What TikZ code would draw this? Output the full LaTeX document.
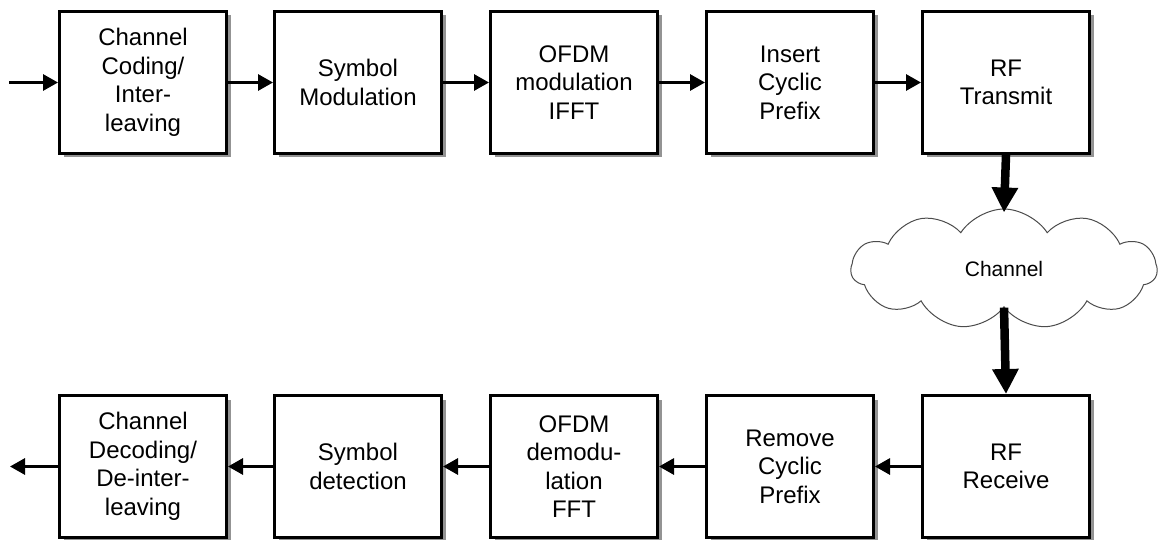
\documentclass[tikz,border=0pt]{standalone}
\usepackage{fontspec}
\setmainfont{Liberation Sans}
\usepackage{tikz}
\usetikzlibrary{shapes.symbols, shadows, arrows.meta}
\tikzstyle{block} = [draw, line width=3pt, fill=white, minimum width=167pt, minimum height=142pt, align=center, font=\fontsize{24}{28.5}\selectfont, drop shadow={shadow xshift=4pt, shadow yshift=-4pt, fill=gray!85, opacity=1}]
\tikzstyle{arrow} = [line width=3pt, -{Triangle[length=15pt,width=16pt]}]
\tikzstyle{bigarrow} = [line width=8.5pt, -{Triangle[length=25pt,width=25pt]}]

\begin{document}
\begin{tikzpicture}[x=1pt,y=-1pt]
\useasboundingbox (0,0) rectangle (1159,540);

% Transmitter chain
\node[block] (code) at (143,82.5) {Channel\\Coding/\\Inter-\\leaving};
\node[block] (mod) at (358,82.5) {Symbol\\Modulation};
\node[block] (ifft) at (574,82.5) {OFDM\\modulation\\IFFT};
\node[block] (cp) at (790,82.5) {Insert\\Cyclic\\Prefix};
\node[block] (tx) at (1006,82.5) {RF\\Transmit};

% Channel
\node[cloud, cloud puffs=11, cloud puff arc=115, cloud ignores aspect, draw=black!70, line width=1pt, fill=white, minimum width=306pt, minimum height=120pt, font=\fontsize{21}{24}\selectfont] (chan) at (1004,269) {Channel};

% Receiver chain
\node[block] (rx) at (1006,466.5) {RF\\Receive};
\node[block] (rcp) at (790,466.5) {Remove\\Cyclic\\Prefix};
\node[block] (fft) at (574,466.5) {OFDM\\demodu-\\lation\\FFT};
\node[block] (det) at (358,466.5) {Symbol\\detection};
\node[block] (dec) at (143,466.5) {Channel\\Decoding/\\De-inter-\\leaving};

% Input and output
\coordinate (in) at (9,82.5);
\coordinate (out) at (10,466.5);

% Thin arrows
\draw[arrow] (in) -- (code);
\draw[arrow] (code) -- (mod);
\draw[arrow] (mod) -- (ifft);
\draw[arrow] (ifft) -- (cp);
\draw[arrow] (cp) -- (tx);
\draw[arrow] (rx) -- (rcp);
\draw[arrow] (rcp) -- (fft);
\draw[arrow] (fft) -- (det);
\draw[arrow] (det) -- (dec);
\draw[arrow] (dec) -- (out);

% Thick arrows through the channel
\draw[bigarrow] (tx.south) -- ([yshift=-4pt]chan.north);
\draw[bigarrow] (chan.south) -- (rx.north);
\end{tikzpicture}
\end{document}
